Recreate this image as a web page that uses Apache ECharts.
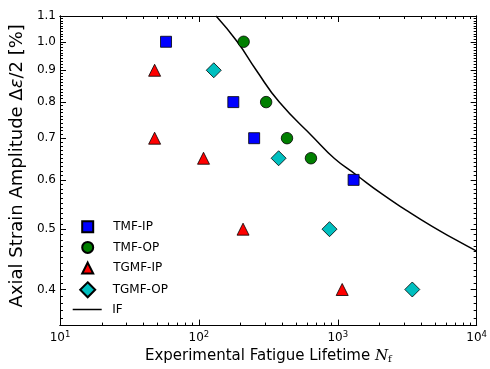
<!DOCTYPE html>
<html>
<head>
<meta charset="utf-8">
<script src="https://cdn.jsdelivr.net/npm/echarts@6/dist/echarts.min.js"></script>
<style>
  html, body { margin: 0; padding: 0; background: #fff; }
  #chart { width: 490px; height: 369px; }
</style>
</head>
<body>
<div id="chart"></div>
<script>
// 数据
const tmfIpLife = [58, 177, 250, 1300];
const tmfIpAmp = [1.0, 0.8, 0.7, 0.6];
const tmfOpLife = [210, 305, 431, 641];
const tmfOpAmp = [1.0, 0.8, 0.7, 0.65];
const tgmfIpLife = [48, 48, 108, 208, 1076];
const tgmfIpAmp = [0.9, 0.7, 0.65, 0.5, 0.4];
const tgmfOpLife = [128, 375, 872, 3440];
const tgmfOpAmp = [0.9, 0.65, 0.5, 0.4];
const ifLife = [133, 189, 259, 379, 676, 942, 1347, 2091, 3078, 4779, 7035, 10000];
const ifAmp = [1.1, 1.0, 0.9, 0.8, 0.7, 0.65, 0.612, 0.569, 0.537, 0.505, 0.481, 0.461];

// 刻度
const xDecades = [1, 2, 3, 4];
const yTickLabels = [0.4, 0.5, 0.6, 0.7, 0.8, 0.9, 1.0, 1.1];
const xRange = [10, 10000];
const yRange = [0.35, 1.1];

const lg = Math.log10;
const FONT = 'DejaVu Sans';

// 对数轴: 数据取 log10 后画在数值轴上
const xMajor = xDecades;
const xMinor = [];
[1, 2, 3].forEach(d => {
  for (let m = 2; m <= 9; m++) xMinor.push(lg(m * Math.pow(10, d)));
});
const yMajor = yTickLabels.map(v => lg(v));
const yMinor = [];
for (let i = 35; i <= 110; i++) yMinor.push(lg(i / 100));

const toPts = (xs, ys) => xs.map((x, i) => [lg(x), lg(ys[i])]);

function baseAxis(position, range, ticks, len) {
  return {
    type: 'value',
    position: position,
    min: lg(range[0]),
    max: lg(range[1]),
    z: 10,
    axisLine: { show: true, onZero: false, lineStyle: { color: '#000', width: 1 } },
    splitLine: { show: false },
    axisTick: { show: true, inside: true, length: len, customValues: ticks, lineStyle: { color: '#000', width: 1 } },
    axisLabel: { show: false }
  };
}

function xAx(position, ticks, len, withLabel) {
  const ax = baseAxis(position, xRange, ticks, len);
  if (withLabel) {
    ax.axisLabel = {
      show: true,
      customValues: ticks,
      margin: 5,
      formatter: v => '{b|10}{s|' + Math.round(v) + '}',
      rich: {
        b: { fontFamily: FONT, fontSize: 12, color: '#000', lineHeight: 14 },
        s: { fontFamily: FONT, fontSize: 8.5, color: '#000', verticalAlign: 'top', lineHeight: 10 }
      }
    };
    ax.name = '{t|Experimental Fatigue Lifetime }{n|N}{f|f}';
    ax.nameLocation = 'middle';
    ax.nameGap = 19;
    ax.nameTextStyle = {
      rich: {
        t: { fontFamily: FONT, fontSize: 15, color: '#000' },
        n: { fontFamily: 'DejaVu Serif', fontStyle: 'italic', fontSize: 15, color: '#000' },
        f: { fontFamily: 'DejaVu Serif', fontSize: 10, color: '#000', verticalAlign: 'bottom', padding: [6, 0, 0, 0] }
      }
    };
  }
  return ax;
}

function yAx(position, ticks, len, withLabel) {
  const ax = baseAxis(position, yRange, ticks, len);
  if (withLabel) {
    ax.axisLabel = {
      show: true,
      customValues: ticks,
      margin: 4,
      fontFamily: FONT,
      fontSize: 12,
      color: '#000',
      formatter: v => Math.pow(10, v).toFixed(1)
    };
    ax.name = '{t|Axial Strain Amplitude Δ}{i|ε}{t|/2 [%]}';
    ax.nameLocation = 'middle';
    ax.nameRotate = 90;
    ax.nameGap = 27;
    ax.nameTextStyle = {
      padding: [0, 0, 0, 10],
      rich: {
        t: { fontFamily: FONT, fontSize: 18, color: '#000' },
        i: { fontFamily: FONT, fontStyle: 'italic', fontSize: 18, color: '#000' }
      }
    };
  }
  return ax;
}

function scatter(name, symbol, size, color, xs, ys) {
  return {
    name: name,
    type: 'scatter',
    symbol: symbol,
    symbolSize: size,
    itemStyle: { color: color, borderColor: '#000', borderWidth: 0.8, opacity: 1 },
    data: toPts(xs, ys),
    z: 3
  };
}

const legendText = pad => ({
  fontFamily: FONT, fontSize: 12, color: '#000', lineHeight: 14, padding: [0, 0, 0, pad]
});

const chart = echarts.init(document.getElementById('chart'));
chart.setOption({
  animation: false,
  grid: {
    left: 60, right: 12, top: 16, bottom: 40,
    show: false
  },
  xAxis: [
    xAx('bottom', xMajor, 6, true),
    xAx('top', xMajor, 6, false),
    xAx('bottom', xMinor, 3, false),
    xAx('top', xMinor, 3, false)
  ],
  yAxis: [
    yAx('left', yMajor, 6, true),
    yAx('right', yMajor, 6, false),
    yAx('left', yMinor, 3, false),
    yAx('right', yMinor, 3, false)
  ],
  legend: [
    {
      data: ['TMF-IP', 'TMF-OP', 'TGMF-IP'],
      orient: 'vertical', left: 81.2, top: 219.7, padding: 0,
      itemWidth: 11, itemHeight: 11, itemGap: 6.7, selectedMode: false,
      textStyle: legendText(15)
    },
    {
      data: ['TGMF-OP'],
      orient: 'vertical', left: 79.2, top: 281.3, padding: 0,
      itemWidth: 15, itemHeight: 15, selectedMode: false,
      textStyle: legendText(12.5)
    },
    {
      data: [{ name: 'IF', icon: 'path://M0,0 L29,0 L29,1.5 L0,1.5 Z' }],
      orient: 'vertical', left: 72.7, top: 302.5, padding: 0,
      itemWidth: 29, itemHeight: 14, selectedMode: false,
      itemStyle: { color: '#000' },
      textStyle: legendText(5.5)
    }
  ],
  series: [
    scatter('TMF-IP', 'rect', 11, '#0000ff', tmfIpLife, tmfIpAmp),
    scatter('TMF-OP', 'circle', 11.5, '#007f00', tmfOpLife, tmfOpAmp),
    scatter('TGMF-IP', 'triangle', 12, '#ff0000', tgmfIpLife, tgmfIpAmp),
    scatter('TGMF-OP', 'diamond', 15, '#00bfbf', tgmfOpLife, tgmfOpAmp),
    {
      name: 'IF',
      type: 'line',
      symbol: 'none',
      smooth: 0.5,
      data: toPts(ifLife, ifAmp),
      lineStyle: { color: '#000', width: 1.5 },
      itemStyle: { color: '#000' },
      z: 2
    }
  ]
});
</script>
</body>
</html>
